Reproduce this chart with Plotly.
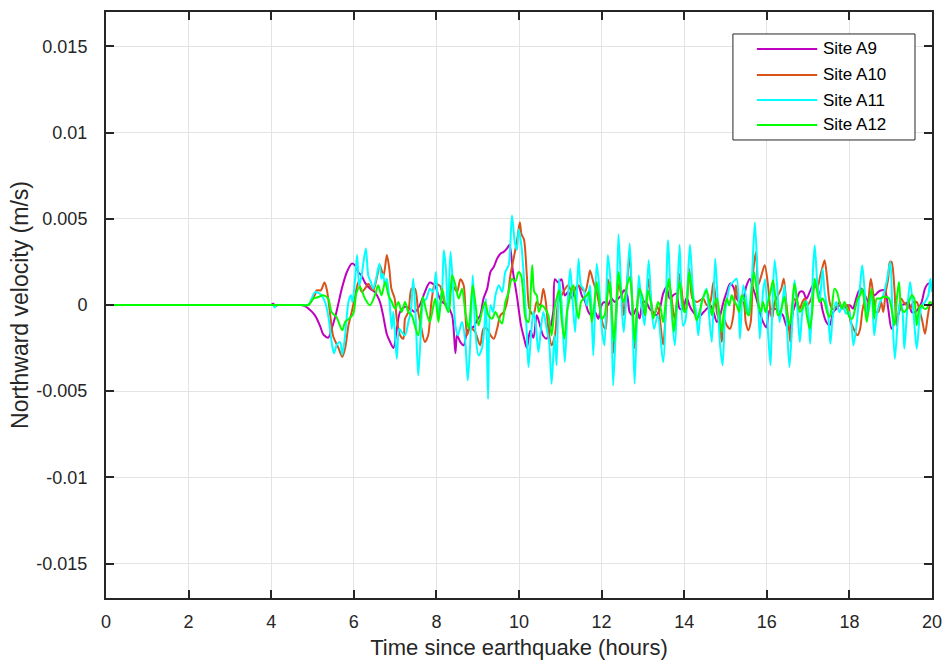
import plotly.graph_objects as go

# ---------------- data (velocity in mm/s, i.e. units of 0.001 m/s) ----------------
series_names = ["Site A9", "Site A10", "Site A11", "Site A12"]
series_colors = ["#BF00BF", "#D95319", "#00FFFF", "#00FF00"]

a9_t = [0, 1.0, 2.0, 3.0, 3.6, 3.9, 4.0, 4.05, 4.1, 4.15, 4.3, 4.5, 4.6, 4.7, 4.8, 4.9, 5.06, 5.18, 5.26, 5.38, 5.46, 5.58, 5.71, 5.83, 5.95,
        6.03, 6.11, 6.19, 6.27, 6.39, 6.51, 6.63, 6.71, 6.80, 6.88, 6.96, 7.04, 7.12, 7.24, 7.36, 7.48,
        7.60, 7.72, 7.84, 7.97, 8.05, 8.14, 8.26, 8.38, 8.46, 8.50, 8.58, 8.66, 8.74, 8.82, 8.90, 8.98,
        9.06, 9.14, 9.23, 9.31, 9.39, 9.47, 9.55, 9.63, 9.71, 9.77, 9.85, 9.95, 10.05, 10.12, 10.19,
        10.27, 10.35, 10.43, 10.51, 10.59, 10.67, 10.75, 10.83, 10.87, 10.95, 11.03, 11.11, 11.19,
        11.28, 11.36, 11.44, 11.52, 11.60, 11.68, 11.76, 11.84, 11.92, 12.00, 12.07, 12.15, 12.24,
        12.32, 12.40, 12.48, 12.54, 12.62, 12.68, 12.76, 12.84, 12.92, 13.00, 13.08, 13.16, 13.24,
        13.33, 13.41, 13.49, 13.57, 13.65, 13.73, 13.81, 13.89, 13.97, 14.06, 14.14, 14.22, 14.34,
        14.47, 14.55, 14.63, 14.71, 14.79, 14.87, 14.95, 15.03, 15.11, 15.19, 15.27, 15.35, 15.43,
        15.51, 15.59, 15.67, 15.75, 15.83, 15.91, 15.99, 16.07, 16.19, 16.31, 16.39, 16.47, 16.55,
        16.63, 16.71, 16.80, 16.88, 16.96, 17.04, 17.12, 17.20, 17.28, 17.36, 17.44, 17.52, 17.61,
        17.69, 17.77, 17.85, 17.93, 18.01, 18.09, 18.14, 18.22, 18.30, 18.38, 18.46, 18.54, 18.61,
        18.70, 18.78, 18.86, 18.94, 19.02, 19.10, 19.18, 19.26, 19.35, 19.43, 19.51, 19.59, 19.67,
        19.75, 19.83, 19.91, 20.00]
a9_v = [0, 0, 0, 0, 0, 0, 0, 0.08, -0.06, 0, 0, 0, 0, 0, -0.05, -0.2, -0.6, -1.2, -1.7, -1.9, -1.4, -0.4, 0.95, 1.9, 2.4,
        2.3, 1.9, 1.7, 1.3, 0.95, 0.75, 0.2, -0.6, -1.7, -2.15, -2.5, -1.4, -0.4, -0.1, -0.2, -0.4,
        0.0, 0.75, 1.3, 1.1, 0.55, 0.17, -0.02, -0.6, -2.8, -1.76, -2.15, -2.34, -1.57, -1.28, -1.28, -0.89,
        -0.6, 0.37, 0.95, 1.92, 2.21, 2.69, 2.98, 3.08, 3.28, 3.5, 2.0, 0.5, -1.2, -1.9, -2.5,
        -1.5, -1.9, -0.6, -1.2, -1.8, -1.95, -1.4, -0.4, 1.5, 1.3, 1.5, 0.55, 0.75,
        0.4, 0.95, 1.1, 0.55, 0.2, -0.4, -0.6, -0.4, -0.8, 0.0, 0.17, -0.02, 0.37,
        0.17, 0.37, 0.56, 0.85, 0.56, -0.41, -0.6, -0.21, -0.79, 0.17, 0.17, -0.21, -0.41,
        -0.6, -0.21, 0.66, 1.05, 0.37, 0.56, 0.66, -0.21, -0.21, 0.4, -0.1, -0.41, -0.7,
        -0.41, -0.21, -0.02, -0.41, -0.99, -0.6, 0.17, 0.76, 1.24, 1.05, 0.37, 0.17, 0.37,
        1.14, 1.53, 0.95, 0.37, -0.41, -0.99, -1.3, -0.3, -0.21, -0.41, -0.6, -1.18, -1.47,
        -0.41, 0.17, 0.76, 0.76, 0.37, 0.76, 1.14, 1.14, 0.56, -0.41, -0.99, -1.18, -0.41,
        -0.21, -0.02, -0.21, -0.1, -0.02, -0.21, 0.17, 0.76, 0.95, 0.56, 0.17, 0.76, 0.56,
        0.76, 0.85, 0.85, -0.21, -1.38, -0.99, -0.6, -0.02, 0.07, 0.17, -0.41, -0.41, -0.21,
        0.17, 0.95, 1.24, 1.14]

a10_t = [0, 1.0, 2.0, 3.0, 4.0, 4.4, 4.6, 4.75, 4.9, 5.06, 5.10, 5.20, 5.29, 5.35, 5.42, 5.50, 5.63, 5.72, 5.79, 5.87, 5.95, 6.03, 6.11,
         6.19, 6.27, 6.35, 6.39, 6.47, 6.55, 6.63, 6.72, 6.80, 6.86, 6.91, 6.99, 7.04, 7.12, 7.20,
         7.24, 7.32, 7.40, 7.48, 7.56, 7.64, 7.72, 7.80, 7.88, 7.97, 8.03, 8.09, 8.22, 8.30, 8.38,
         8.50, 8.58, 8.66, 8.74, 8.80, 8.86, 8.94, 9.06, 9.14, 9.23, 9.31, 9.39, 9.47, 9.55, 9.63,
         9.71, 9.79, 9.87, 9.95, 10.02, 10.06, 10.12, 10.19, 10.25, 10.35, 10.43, 10.51, 10.59,
         10.65, 10.71, 10.79, 10.87, 10.95, 11.03, 11.19, 11.28, 11.36, 11.44, 11.52, 11.60, 11.68,
         11.72, 11.80, 11.88, 11.96, 12.04, 12.10, 12.15, 12.22, 12.28, 12.36, 12.41, 12.50, 12.54,
         12.68, 12.74, 12.80, 12.90, 12.96, 13.04, 13.14, 13.20, 13.27, 13.36, 13.49, 13.61, 13.67,
         13.77, 13.89, 13.97, 14.04, 14.12, 14.20, 14.31, 14.46, 14.55, 14.63, 14.71, 14.79, 14.85,
         14.91, 14.96, 15.03, 15.11, 15.19, 15.25, 15.33, 15.43, 15.49, 15.55, 15.61, 15.67, 15.74,
         15.79, 15.87, 15.95, 16.03, 16.09, 16.13, 16.19, 16.27, 16.35, 16.41, 16.47, 16.54, 16.57,
         16.62, 16.67, 16.73, 16.80, 16.86, 16.92, 16.98, 17.04, 17.10, 17.16, 17.22, 17.28, 17.34,
         17.40, 17.46, 17.52, 17.58, 17.64, 17.70, 17.76, 17.82, 17.92, 17.97, 18.03, 18.07, 18.14,
         18.20, 18.26, 18.31, 18.36, 18.42, 18.48, 18.52, 18.58, 18.64, 18.70, 18.77, 18.82, 18.88,
         18.94, 18.98, 19.02, 19.09, 19.14, 19.18, 19.25, 19.31, 19.39, 19.47, 19.55, 19.63, 19.71,
         19.77, 19.83, 19.90, 19.95, 20.00]
a10_v = [0, 0, 0, 0, 0, 0, 0, 0, 0, 0.6, 0.85, 0.85, 1.3, 0.85, -0.4, -1.8, -2.5, -3.0, -2.5, -1.2, -0.4, 0.5, 1.34,
         0.76, 0.95, 1.24, 1.1, 0.85, 1.5, 2.3, 1.7, 2.9, 2.1, 0.95, 0.37, -0.8, -1.76, -1.96,
         -0.8, -0.41, 0.95, 0.95, -0.41, -1.38, -2.15, -1.76, 0.17, 1.34, 1.2, 1.1, -0.02, 0.3, 1.14,
         0.76, 1.5, 1.14, -1.76, -1.4, -1.38, -1.57, -2.34, -1.38, -1.38, -1.76, -1.96, -1.38, -0.6, -0.41,
         0.17, 1.72, 2.7, 3.7, 4.8, 4.1, 3.8, 1.7, -0.2, -0.6, 0.17, -0.02, 0.95,
         0.17, -1.38, -2.34, -1.76, 0.17, 0.56, 1.14, 0.76, 0.95, 1.14, 0.95, 0.76, 1.53,
         2.0, 1.34, 0.76, -0.21, -1.2, -1.4, 1.5, 0.5, -2.8, -0.4, 1.2, 0.3, -0.6,
         2.8, 0.2, -2.5, 1.0, 0.2, -0.6, 1.5, 0.2, -0.6, -0.1, -2.3, 1.3, 0.8,
         -0.8, 1.8, 0.2, -0.41, 2.11, 0.37, 0.17, 0.37, -0.02, 0.17, 1.34, -0.41, -0.99,
         -2.15, -0.79, -1.18, -1.38, -0.6, 1.14, 0.17, 0.17, -0.99, -1.47, -0.99, 1.92, 3.08,
         1.14, 1.72, 2.31, 1.14, -0.41, -0.79, 0.17, 0.56, 0.95, 1.53, 0.17, -1.38, -2.15,
         -0.6, 0.37, 0.17, -0.21, 0.17, 0.37, -0.02, 0.17, 0.56, 1.14, 0.95, 1.53, 2.11,
         2.6, 1.53, 0.17, -0.21, -0.21, -0.02, 0.17, -0.21, -0.02, -0.02, -0.99, -1.2, -1.57,
         -1.76, -1.38, -0.41, 0.17, -0.6, 0.76, 1.53, 0.56, -0.41, -0.41, 0.17, -0.41, 0.76,
         1.53, 2.5, 2.5, 0.95, -1.18, -0.6, 0.37, 0.17, -0.02, -0.21, 0.17, 0.17, -0.41,
         -0.99, -1.67, -0.6, -0.02, 0.07]

a11_t = [0, 1.0, 2.0, 3.0, 3.6, 3.95, 4.05, 4.08, 4.12, 4.2, 4.4, 4.6, 4.75, 4.9, 5.06, 5.18, 5.30, 5.38, 5.46, 5.52, 5.59, 5.67, 5.72, 5.79, 5.87,
         5.93, 5.97, 6.03, 6.08, 6.13, 6.19, 6.29, 6.35, 6.41, 6.47, 6.54, 6.62, 6.67, 6.71, 6.75,
         6.80, 6.86, 6.92, 6.96, 7.04, 7.10, 7.16, 7.24, 7.32, 7.38, 7.44, 7.50, 7.56, 7.62, 7.68,
         7.76, 7.84, 7.92, 7.99, 8.05, 8.14, 8.18, 8.23, 8.28, 8.34, 8.39, 8.46, 8.52, 8.62, 8.70,
         8.76, 8.82, 8.88, 8.94, 9.02, 9.10, 9.17, 9.20, 9.25, 9.31, 9.37, 9.43, 9.51, 9.59, 9.67,
         9.75, 9.83, 9.90, 9.95, 9.99, 10.06, 10.13, 10.19, 10.23, 10.29, 10.35, 10.40, 10.47, 10.53,
         10.59, 10.67, 10.73, 10.79, 10.86, 10.91, 10.97, 11.03, 11.11, 11.18, 11.24, 11.29, 11.36,
         11.44, 11.50, 11.56, 11.64, 11.72, 11.80, 11.88, 11.94, 12.01, 12.07, 12.15, 12.22, 12.28,
         12.36, 12.41, 12.50, 12.54, 12.68, 12.74, 12.80, 12.90, 12.96, 13.04, 13.14, 13.20, 13.27,
         13.36, 13.49, 13.61, 13.67, 13.77, 13.89, 13.97, 14.03, 14.08, 14.14, 14.22, 14.29, 14.34,
         14.42, 14.48, 14.54, 14.61, 14.67, 14.75, 14.80, 14.87, 14.93, 14.99, 15.04, 15.11, 15.19,
         15.27, 15.35, 15.43, 15.49, 15.55, 15.63, 15.71, 15.77, 15.83, 15.91, 15.96, 16.03, 16.09,
         16.13, 16.19, 16.25, 16.31, 16.38, 16.43, 16.49, 16.55, 16.62, 16.67, 16.73, 16.80, 16.86,
         16.92, 16.97, 17.05, 17.12, 17.16, 17.22, 17.28, 17.35, 17.40, 17.48, 17.54, 17.60, 17.68,
         17.76, 17.84, 17.92, 17.99, 18.05, 18.10, 18.18, 18.26, 18.31, 18.38, 18.44, 18.50, 18.54,
         18.60, 18.66, 18.74, 18.82, 18.90, 18.99, 19.04, 19.10, 19.17, 19.23, 19.28, 19.33, 19.39,
         19.47, 19.55, 19.63, 19.69, 19.75, 19.83, 19.91, 19.96, 20.00]
a11_v = [0, 0, 0, 0, 0, 0, 0, -0.15, 0, 0, 0, 0, 0, 0, 0.75, 0.65, 0.2, -0.6, -2.1, -2.8, -2.3, -2.15, -2.9, -1.76, 0.17,
         0.56, 0.17, 1.5, 2.9, 1.14, 1.72, 3.28, 1.72, 1.34, 0.95, 1.53, 2.4, 1.53, 1.82, 1.14,
         1.53, 0.37, -1.38, -0.41, -3.12, -1.38, -1.57, -1.76, -0.99, -0.41, 1.53, -0.79, -4.09, -1.76, 0.17,
         0.37, 0.95, 0.76, 1.92, -0.6, 0.95, 3.18, 2.11, -0.41, 3.08, 1.53, -1.18, -1.76, -0.99, -2.15,
         -4.38, -2.15, 1.72, -1.38, -2.93, -2.54, -0.99, 0.37, -5.45, -0.02, -0.41, 0.56, 1.14, 0.76, 1.92,
         2.31, 5.2, 3.6, 3.2, 4.4, 3.4, 1.14, -1.76, -3.6, -1.76, -0.41, -0.99, -2.73, -1.38,
         -0.41, -1.38, -2.15, -4.57, -1.76, -3.5, 1.53, 0.17, -3.31, 0.17, 2.11, 0.56, -1.57,
         2.69, 1.14, 0.95, -0.02, 1.14, -2.93, 2.4, 1.14, -1.5, -2.34, 2.9, 1.14, -4.67,
         -0.41, 4.1, -0.6, -1.57, 3.57, -0.02, -4.57, 1.72, 0.17, -1.18, 2.6, 0.17, -1.38,
         -0.6, -3.31, 3.76, 0.56, -2.34, 3.5, -1.2, -0.9, 1.0, 3.5, 0.56, -0.41, -1.76,
         0.17, 0.56, 0.95, -0.8, -2.15, 2.69, 0.76, -2.34, -3.5, -0.41, 0.37, 1.14, 1.34,
         1.53, -1.96, 1.14, 0.56, -0.6, 1.14, 4.79, 2.1, -1.96, 0.8, 1.5, -1.6, -3.5,
         -0.41, 2.6, 1.14, -0.99, 0.17, 1.14, -1.38, -3.6, -0.8, 1.43, 0.17, -2.15, -0.41,
         0.17, 0.17, -2.25, 2.1, 3.47, 1.34, 0.17, 2.1, 0.76, -0.41, -2.25, -0.6, 0.17,
         -0.41, -0.02, -0.5, -0.41, -1.18, -2.34, -0.99, 1.14, 2.31, 0.56, -0.6, 0.17, 0.76,
         -1.76, -0.6, 0.17, 0.56, 1.34, 2.5, -0.41, -3.12, -0.99, 0.17, -0.21, -2.54, -0.6,
         1.34, -0.41, -2.54, -0.99, -0.02, 0.17, 0.56, 1.53, 0.76]

a12_t = [0, 1.0, 2.0, 3.0, 4.0, 4.4, 4.6, 4.75, 4.9, 5.02, 5.14, 5.26, 5.38, 5.46, 5.58, 5.72, 5.79, 5.91, 5.99, 6.07, 6.15, 6.27, 6.39,
         6.51, 6.59, 6.67, 6.76, 6.84, 6.92, 7.00, 7.08, 7.16, 7.24, 7.32, 7.40, 7.56, 7.67, 7.76,
         7.84, 7.97, 8.05, 8.14, 8.22, 8.30, 8.38, 8.46, 8.54, 8.62, 8.70, 8.78, 8.88, 8.94, 9.02,
         9.10, 9.18, 9.26, 9.35, 9.43, 9.51, 9.59, 9.67, 9.75, 9.83, 9.91, 9.99, 10.05, 10.10, 10.16,
         10.23, 10.29, 10.32, 10.37, 10.43, 10.48, 10.55, 10.63, 10.71, 10.79, 10.86, 10.91, 10.97,
         11.03, 11.10, 11.16, 11.21, 11.28, 11.32, 11.37, 11.44, 11.50, 11.56, 11.64, 11.69, 11.76,
         11.82, 11.88, 11.94, 12.00, 12.07, 12.14, 12.20, 12.25, 12.30, 12.36, 12.41, 12.48, 12.54,
         12.60, 12.68, 12.74, 12.80, 12.87, 12.92, 13.00, 13.06, 13.12, 13.19, 13.25, 13.30, 13.37,
         13.43, 13.49, 13.57, 13.63, 13.69, 13.75, 13.81, 13.89, 13.95, 14.00, 14.05, 14.12, 14.18,
         14.24, 14.30, 14.37, 14.43, 14.48, 14.54, 14.61, 14.67, 14.72, 14.79, 14.85, 14.91, 14.96,
         15.03, 15.09, 15.15, 15.20, 15.27, 15.33, 15.39, 15.45, 15.51, 15.57, 15.63, 15.69, 15.74,
         15.79, 15.85, 15.91, 15.97, 16.03, 16.09, 16.15, 16.21, 16.27, 16.33, 16.39, 16.43, 16.49,
         16.55, 16.62, 16.67, 16.73, 16.80, 16.86, 16.92, 16.97, 17.04, 17.10, 17.16, 17.22, 17.28,
         17.34, 17.40, 17.46, 17.52, 17.58, 17.64, 17.70, 17.76, 17.82, 17.88, 17.94, 18.00, 18.07,
         18.12, 18.20, 18.26, 18.31, 18.36, 18.42, 18.48, 18.54, 18.60, 18.66, 18.74, 18.82, 18.90,
         18.96, 19.02, 19.09, 19.14, 19.20, 19.26, 19.33, 19.39, 19.44, 19.51, 19.57, 19.63, 19.69,
         19.75, 19.81, 19.87, 19.95, 20.00]
a12_v = [0, 0, 0, 0, 0, 0, 0, 0, 0, 0.37, 0.46, 0.56, 0.37, -0.41, -0.7, -1.47, -0.99, -0.75, -0.5, 0.76, 1.05, 0.37, -0.02,
         0.56, 1.14, 0.56, 1.34, 0.56, 0.17, -0.21, 0.17, -0.41, 0.17, -0.41, -0.6, -1.76, 0.46, -0.41,
         -0.99, 0.37, -0.99, 0.95, -0.02, -0.41, 1.72, 1.14, 0.37, 0.95, -0.41, -1.38, 1.14, 0.17, -1.18,
         -0.41, 0.17, -0.6, -0.79, -0.41, -0.79, -1.08, 0.17, 0.76, 1.53, 1.34, 1.92, 1.72, 0.76, -0.79,
         -0.99, 1.14, 2.31, 0.76, 0.56, -0.41, -0.02, -0.21, -0.6, -1.76, -0.21, 0.37, 0.85,
         -0.79, -1.96, -0.41, 0.17, 0.95, 1.14, 0.17, -0.79, 0.17, 0.37, 0.56, 0.76, -0.99,
         -0.02, 1.34, 0.37, -0.79, -0.6, 0.56, 1.34, -0.41, -2.15, 0.17, 1.92, 0.56, 0.17,
         0.95, 1.63, 0.37, -2.15, 0.17, 0.95, 0.37, -0.6, 0.85, 0.17, -0.79, -0.41, 0.17,
         -0.21, -0.99, 0.56, 1.53, 0.17, -1.57, -0.21, 1.34, 0.17, -0.41, -0.21, 1.9, 0.95,
         -0.21, -0.89, -0.41, 0.17, 0.56, 0.85, 0.17, -0.6, -0.02, 0.37, -0.41, -1.57, -0.41,
         0.37, -0.02, 0.56, 0.27, -0.02, -0.41, 0.56, 0.37, -0.41, -0.6, 0.76, 1.92, 1.14,
         0.17, -0.41, 0.17, -0.41, 0.17, 0.76, 1.43, 0.37, -0.6, -0.41, 0.17, 0.46, -0.6,
         -1.18, 0.17, 1.24, 0.37, -0.41, -0.21, 0.17, -0.6, -1.38, -0.41, 1.53, 0.76, 0.17,
         0.37, 0.17, -0.41, -0.7, -0.02, 0.95, 0.76, 0.17, -0.21, 0.17, -0.21, -0.7, -0.79,
         -0.41, 0.37, 0.56, 0.95, 0.17, -0.99, 0.17, 0.95, -0.79, 0.37, 0.37, 0.46, 0.46,
         0.37, -0.21, -1.18, 0.17, 1.34, -0.21, -0.41, -0.21, 0.17, 0.56, 0.37, -1.18, -0.21,
         -0.02, -0.21, -0.21, 0.17, 0.1]

x_tick_vals = [0, 2, 4, 6, 8, 10, 12, 14, 16, 18, 20]
y_tick_vals = [-0.015, -0.01, -0.005, 0, 0.005, 0.01, 0.015]
y_tick_text = ["-0.015", "-0.01", "-0.005", "0", "0.005", "0.01", "0.015"]
x_title = "Time since earthquake (hours)"
y_title = "Northward velocity (m/s)"

# ---------------- figure ----------------
FONT = "Liberation Sans, Arial, Helvetica, sans-serif"
AX = "#262626"

series_t = [a9_t, a10_t, a11_t, a12_t]
series_v = [a9_v, a10_v, a11_v, a12_v]

fig = go.Figure()
for name, col, t, v in zip(series_names, series_colors, series_t, series_v):
    fig.add_trace(go.Scatter(
        x=t, y=[val / 1000.0 for val in v], mode="lines", name=name,
        line=dict(color=col, width=2, shape="spline", smoothing=0.8), showlegend=False))

fig.update_layout(
    width=947, height=664,
    margin=dict(l=106, r=15, t=12, b=66),
    plot_bgcolor="white", paper_bgcolor="white",
    font=dict(family=FONT, size=18, color=AX),
    showlegend=False,
)
fig.update_xaxes(
    range=[0, 20], tickvals=x_tick_vals, ticks="inside", ticklen=8, tickcolor=AX,
    tickwidth=1.5, showline=True, linecolor=AX, linewidth=2, mirror="ticks",
    showgrid=True, gridcolor="#e3e3e3", gridwidth=1, zeroline=False, automargin=False,
    tickfont=dict(size=18, color=AX), ticklabelstandoff=6,
    title=dict(text=x_title, font=dict(size=22, color=AX), standoff=9),
)
fig.update_yaxes(
    range=[-0.017, 0.017], tickvals=y_tick_vals, ticktext=y_tick_text, ticks="inside",
    ticklen=8, tickcolor=AX, tickwidth=1.5, showline=True, linecolor=AX, linewidth=2,
    mirror="ticks", showgrid=True, gridcolor="#e3e3e3", gridwidth=1, zeroline=False,
    automargin=False, tickfont=dict(size=18, color=AX), ticklabelstandoff=13,
    title=dict(text=y_title, font=dict(size=23, color=AX), standoff=1),
)

# ---------------- legend (drawn in paper coordinates, top-right inside axes) ----------------
box_x0, box_x1 = 0.759, 0.9794
box_y0, box_y1 = 0.7816, 0.9625
line_x0, line_x1 = 0.788, 0.861
text_x = 0.8656
row_y = [0.9369, 0.8925, 0.8498, 0.8072]

fig.add_shape(type="rect", xref="paper", yref="paper", x0=box_x0, x1=box_x1, y0=box_y0, y1=box_y1,
              line=dict(color=AX, width=1), fillcolor="white", layer="above")
for name, col, yy in zip(series_names, series_colors, row_y):
    fig.add_shape(type="line", xref="paper", yref="paper", x0=line_x0, x1=line_x1, y0=yy, y1=yy,
                  line=dict(color=col, width=2), layer="above")
    fig.add_annotation(xref="paper", yref="paper", x=text_x, y=yy, text=name, showarrow=False,
                       xanchor="left", yanchor="middle", font=dict(family=FONT, size=17, color="black"))

fig.write_html("out.html")
